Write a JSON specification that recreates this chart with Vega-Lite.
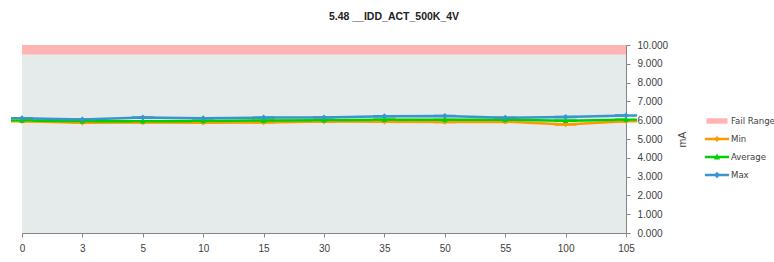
{
  "$schema": "https://vega.github.io/schema/vega-lite/v6.json",
  "width": 604,
  "height": 188,
  "autosize": {"type": "none"},
  "padding": {"left": 22, "top": 45, "right": 148, "bottom": 29},
  "background": "white",
  "view": {"stroke": null, "fill": "#e5ebeb"},
  "title": {"text": "5.48 __IDD_ACT_500K_4V", "fontSize": 10.5, "font": "Liberation Sans", "fontWeight": "bold", "color": "#222222", "anchor": "middle", "dx": 70, "offset": 18},
  "config": {
    "view": {"stroke": null, "fill": "#e5ebeb"},
    "font": "Liberation Sans",
    "axisY": {"labelOverlap": false, "grid": false, "domainColor": "#868686", "tickColor": "#868686", "tickSize": 4, "labelFontSize": 10, "labelColor": "#404040",
      "labelPadding": 7, "titleFontSize": 10.5, "titleFontWeight": "normal", "titleColor": "#404040", "titleAngle": 270, "titlePadding": 20},
    "axisX": {"grid": false, "labelAngle": 0, "domainColor": "#868686", "tickColor": "#868686", "tickSize": 4, "labelFontSize": 10, "labelColor": "#404040", "labelPadding": 6},
    "legend": {"orient": "none", "legendX": 686, "legendY": 67, "padding": 0, "rowPadding": 4, "symbolSize": 324, "symbolStrokeWidth": 0,
      "labelOffset": 5, "labelFontSize": 9.5, "labelColor": "#404040", "labelFont": "Liberation Sans Narrow, DejaVu Sans Condensed, Liberation Sans", "titleFontSize": 0}
  },
  "datasets": {
    "fail": [{"series": "Fail Range", "lo": 9.5, "hi": 10}],
    "lines": [
      {"cond": "0", "series": "Min", "value": 5.94},
      {"cond": "3", "series": "Min", "value": 5.87},
      {"cond": "5", "series": "Min", "value": 5.88},
      {"cond": "10", "series": "Min", "value": 5.87},
      {"cond": "15", "series": "Min", "value": 5.88},
      {"cond": "30", "series": "Min", "value": 5.93},
      {"cond": "35", "series": "Min", "value": 5.92},
      {"cond": "50", "series": "Min", "value": 5.90},
      {"cond": "55", "series": "Min", "value": 5.92},
      {"cond": "100", "series": "Min", "value": 5.77},
      {"cond": "105", "series": "Min", "value": 5.94},
      {"cond": "0", "series": "Average", "value": 5.99},
      {"cond": "3", "series": "Average", "value": 5.95},
      {"cond": "5", "series": "Average", "value": 5.95},
      {"cond": "10", "series": "Average", "value": 5.96},
      {"cond": "15", "series": "Average", "value": 5.98},
      {"cond": "30", "series": "Average", "value": 6.00},
      {"cond": "35", "series": "Average", "value": 6.03},
      {"cond": "50", "series": "Average", "value": 6.02},
      {"cond": "55", "series": "Average", "value": 6.02},
      {"cond": "100", "series": "Average", "value": 5.97},
      {"cond": "105", "series": "Average", "value": 6.03},
      {"cond": "0", "series": "Max", "value": 6.11},
      {"cond": "3", "series": "Max", "value": 6.04},
      {"cond": "5", "series": "Max", "value": 6.15},
      {"cond": "10", "series": "Max", "value": 6.10},
      {"cond": "15", "series": "Max", "value": 6.14},
      {"cond": "30", "series": "Max", "value": 6.15},
      {"cond": "35", "series": "Max", "value": 6.21},
      {"cond": "50", "series": "Max", "value": 6.23},
      {"cond": "55", "series": "Max", "value": 6.13},
      {"cond": "100", "series": "Max", "value": 6.17},
      {"cond": "105", "series": "Max", "value": 6.25}
    ]
  },
  "layer": [
    {
      "data": {"name": "fail"},
      "mark": {"type": "rect"},
      "encoding": {
        "y": {"field": "lo", "type": "quantitative", "scale": {"domain": [0, 10], "nice": false},
          "axis": {"orient": "right", "values": [0,1,2,3,4,5,6,7,8,9,10], "format": ".3f", "title": "mA"}},
        "y2": {"field": "hi"},
        "color": {"field": "series", "type": "nominal", "title": null,
          "scale": {"domain": ["Fail Range", "Min", "Average", "Max"], "range": ["#ffb3b3", "#ff9900", "#00d000", "#3797cc"]}}
      }
    },
    {
      "data": {"name": "lines"},
      "mark": {"type": "line", "strokeWidth": 2.5},
      "encoding": {
        "x": {"field": "cond", "type": "nominal", "title": null, "scale": {"type": "point", "padding": 0, "domain": ["0","3","5","10","15","30","35","50","55","100","105"]}},
        "y": {"field": "value", "type": "quantitative",
          "axis": {"orient": "right", "values": [0,1,2,3,4,5,6,7,8,9,10], "format": ".3f", "title": "mA"}},
        "color": {"field": "series", "type": "nominal", "title": null}
      }
    },
    {
      "data": {"name": "lines"},
      "mark": {"type": "point", "filled": true, "size": 277, "opacity": 1},
      "encoding": {
        "x": {"field": "cond", "type": "nominal", "title": null},
        "y": {"field": "value", "type": "quantitative",
          "axis": {"orient": "right", "values": [0,1,2,3,4,5,6,7,8,9,10], "format": ".3f", "title": "mA"}},
        "color": {"field": "series", "type": "nominal", "title": null},
        "shape": {"field": "series", "type": "nominal", "title": null,
          "scale": {"domain": ["Fail Range", "Min", "Average", "Max"],
            "range": [
              "M-1.17,-0.3H1.17V0.3H-1.17Z",
              "M-1.33,-0.14H1.33V0.14H-1.33Z M0,-0.33L0.33,0L0,0.33L-0.33,0Z",
              "M-1.33,-0.14H1.33V0.14H-1.33Z M0,-0.38L0.33,0.28H-0.33Z",
              "M-1.33,-0.14H1.33V0.14H-1.33Z M0,-0.36L0.36,0L0,0.36L-0.36,0Z"
            ]}}
      }
    }
  ]
}
